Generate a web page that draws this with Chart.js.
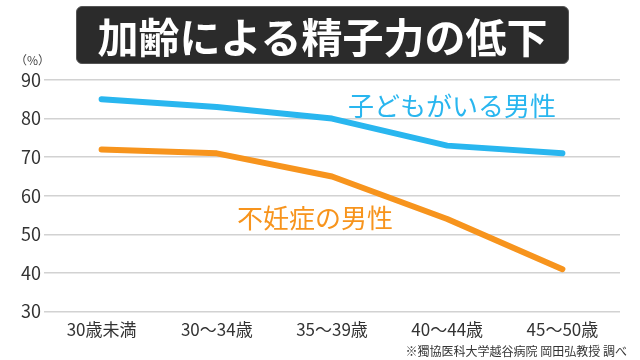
<!DOCTYPE html>
<html lang="ja">
<head>
<meta charset="utf-8">
<script src="https://cdn.jsdelivr.net/npm/chart.js@4/dist/chart.umd.min.js"></script>
<style>
  html, body { margin: 0; padding: 0; background: #fff; }
  #wrap { position: relative; width: 640px; height: 360px; overflow: hidden; font-family: "Noto Sans CJK JP", "Noto Sans", sans-serif; }
  #chart { position: absolute; left: 0; top: 0; }
  .title {
    position: absolute; left: 76px; top: 6px; width: 493px; height: 58px;
    background: #2b2b2b; border-radius: 6px; box-sizing: border-box; border: 1px solid #555;
    color: #fff; font-weight: 700; font-size: 41px; line-height: 56px; text-align: center;
    letter-spacing: 0px;
  }
  .unit { position: absolute; left: 15px; top: 51px; font-size: 12px; color: #444; }
  .lbl { position: absolute; font-size: 26px; white-space: nowrap; line-height: 30px; }
  .source { position: absolute; right: 13px; top: 342px; font-size: 12px; color: #333; }
</style>
</head>
<body>
<div id="wrap">
  <canvas id="chart" width="640" height="360"></canvas>
  <div class="title">加齢による精子力の低下</div>
  <div class="unit">（%）</div>
  <div class="lbl" id="lblBlue" style="left:348px; top:90px; color:#29b6ef;">子どもがいる男性</div>
  <div class="lbl" id="lblOrange" style="left:237px; top:202px; color:#f7941d;">不妊症の男性</div>
  <div class="source">※獨協医科大学越谷病院 岡田弘教授 調べ</div>
</div>
<script>
// Data
const ageGroups = ['30歳未満', '30〜34歳', '35〜39歳', '40〜44歳', '45〜50歳'];
const fathers = [85, 83, 80, 73, 71];     // 子どもがいる男性
const infertile = [72, 71, 65, 54, 41];   // 不妊症の男性
const yTicks = [30, 40, 50, 60, 70, 80, 90];

const BLUE = '#29b6ef';
const ORANGE = '#f7941d';

new Chart(document.getElementById('chart'), {
    type: 'line',
    data: {
        labels: ageGroups,
        datasets: [
            { label: '子どもがいる男性', data: fathers, borderColor: BLUE, borderWidth: 6, pointRadius: 0, tension: 0, borderCapStyle: 'round', borderJoinStyle: 'round' },
            { label: '不妊症の男性', data: infertile, borderColor: ORANGE, borderWidth: 6, pointRadius: 0, tension: 0, borderCapStyle: 'round', borderJoinStyle: 'round' }
        ]
    },
    options: {
        responsive: false,
        animation: false,
        layout: { padding: { top: 80, right: 20, bottom: 20, left: 0 } },
        plugins: { legend: { display: false }, tooltip: { enabled: false } },
        scales: {
            x: {
                offset: true,
                grid: { display: false },
                border: { display: false },
                ticks: { color: '#333', padding: 0, maxRotation: 0, autoSkip: false, font: { family: '"Noto Sans CJK JP"', size: 17 } }
            },
            y: {
                min: yTicks[0],
                max: yTicks[yTicks.length - 1],
                afterBuildTicks: s => { s.ticks = yTicks.map(v => ({ value: v })); },
                afterFit: s => { s.width = 44; },
                border: { display: false },
                grid: { color: '#d2d2d2', lineWidth: 1.5, drawTicks: false },
                ticks: { color: '#333', padding: 3, font: { family: '"Noto Sans CJK JP"', size: 18 } }
            }
        }
    }
});
</script>
</body>
</html>
